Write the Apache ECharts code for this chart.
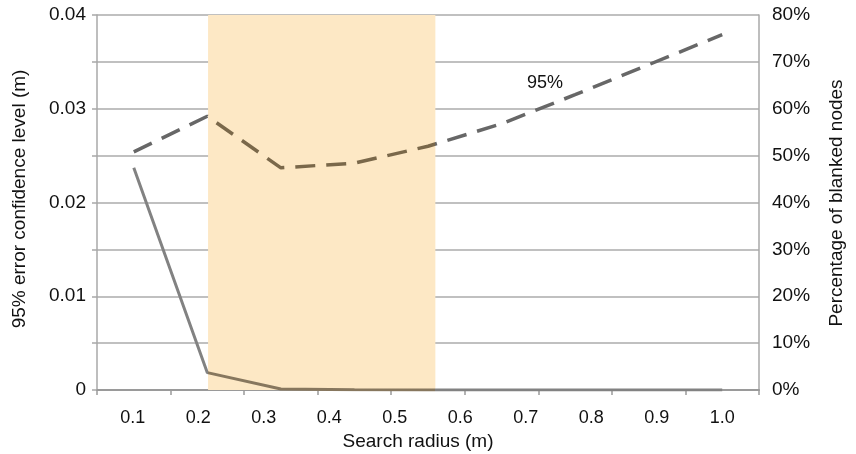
<!DOCTYPE html>
<html><head><meta charset="utf-8">
<script src="https://cdn.jsdelivr.net/npm/echarts@6/dist/echarts.min.js"></script>
<style>html,body{margin:0;padding:0;background:#fff}#c{width:856px;height:454px}</style>
</head><body><div id="c"></div>
<script>
// x tick labels (displayed)
const radiusLabels = ['0.1','0.2','0.3','0.4','0.5','0.6','0.7','0.8','0.9','1.0'];
// 9 measured points (placed at the centres of 9 equal slots along the axis)
const pointSlots = [0.5, 1.5, 2.5, 3.5, 4.5, 5.5, 6.5, 7.5, 8.5];
const confidence95 = [0.0254, 0.0292, 0.0237, 0.0242, 0.0260, 0.0284, 0.0315, 0.0347, 0.0379];
const blankedPct   = [47.4, 3.7, 0.2, 0.05, 0, 0, 0, 0, 0];
// shaded band, in slot units
const shadeRange = [1.51, 4.60];
const leftMax = 0.04, leftStep = 0.005;
const rightMax = 80, rightStep = 10;

const FONT = '"Liberation Sans", Arial, Helvetica, sans-serif';
const chart = echarts.init(document.getElementById('c'), null, {renderer: 'canvas'});

const dashedData = pointSlots.map((x, i) => [x, confidence95[i]]);
const solidData = pointSlots.map((x, i) => [x, blankedPct[i]]);

chart.setOption({
  animation: false,
  backgroundColor: '#fff',
  textStyle: {fontFamily: FONT},
  grid: [
    {left: 97, right: 97, top: 15, bottom: 64, containLabel: false},
    {left: 100, width: 655, top: 15, bottom: 64, containLabel: false}
  ],
  xAxis: [
    {type: 'value', gridIndex: 0, min: 0, max: 9, interval: 1,
     axisLine: {show: true, lineStyle: {color: '#9a9a9a', width: 2}},
     axisTick: {show: true, length: 5, lineStyle: {color: '#9a9a9a', width: 1.5}},
     axisLabel: {show: false}, splitLine: {show: false}},
    {type: 'category', gridIndex: 1, data: radiusLabels, boundaryGap: true,
     axisLine: {show: false}, axisTick: {show: false}, splitLine: {show: false},
     axisLabel: {interval: 0, margin: 19, fontSize: 18, color: '#111', fontFamily: FONT}}
  ],
  yAxis: [
    {type: 'value', gridIndex: 0, min: 0, max: leftMax, interval: leftStep, position: 'left',
     axisLine: {show: true, lineStyle: {color: '#a8a8a8', width: 1.5}},
     axisTick: {show: true, length: 5, lineStyle: {color: '#a8a8a8', width: 1.5}},
     splitLine: {show: true, lineStyle: {color: '#ababab', width: 1.5}},
     axisLabel: {margin: 11, fontSize: 19, color: '#111', fontFamily: FONT,
       formatter: v => {
         const k = Math.round(v / 0.01);
         if (Math.abs(v - k * 0.01) > 1e-9) return '';
         return k === 0 ? '0' : v.toFixed(2);
       }}},
    {type: 'value', gridIndex: 0, min: 0, max: rightMax, interval: rightStep, position: 'right',
     axisLine: {show: true, lineStyle: {color: '#a8a8a8', width: 1.5}},
     axisTick: {show: false},
     splitLine: {show: false},
     axisLabel: {margin: 13, fontSize: 19, color: '#111', fontFamily: FONT, formatter: '{value}%'}},
    {type: 'value', gridIndex: 1, min: 0, max: 1, show: false}
  ],
  visualMap: [
    {type: 'piecewise', show: false, seriesIndex: 1, dimension: 0,
     pieces: [
       {lt: shadeRange[0], color: '#676767'},
       {gte: shadeRange[0], lte: shadeRange[1], color: '#7a684a'},
       {gt: shadeRange[1], color: '#676767'}
     ]},
    {type: 'piecewise', show: false, seriesIndex: 2, dimension: 0,
     pieces: [
       {lt: shadeRange[0], color: '#828282'},
       {gte: shadeRange[0], lte: shadeRange[1], color: '#87775e'},
       {gt: shadeRange[1], color: '#828282'}
     ]}
  ],
  series: [
    {type: 'line', name: 'shade', xAxisIndex: 0, yAxisIndex: 0, data: [], z: -5, silent: true,
     markArea: {silent: true, itemStyle: {color: '#fde8c5'},
       data: [[{xAxis: shadeRange[0], yAxis: 0}, {xAxis: shadeRange[1], yAxis: leftMax}]]}},
    {type: 'line', name: '95%', xAxisIndex: 0, yAxisIndex: 0, data: dashedData,
     showSymbol: false, symbol: 'none', z: 3,
     lineStyle: {width: 3.5, type: [20, 11]}},
    {type: 'line', name: 'blanked', xAxisIndex: 0, yAxisIndex: 1, data: solidData,
     showSymbol: false, symbol: 'none', z: 3,
     lineStyle: {width: 3}}
  ],
  graphic: [
    {type: 'text', x: 545, y: 83, style: {text: '95%', font: '18px ' + FONT, fill: '#111', align: 'center', verticalAlign: 'middle'}},
    {type: 'text', x: 418, y: 442, style: {text: 'Search radius (m)', font: '19px ' + FONT, fill: '#111', align: 'center', verticalAlign: 'middle'}},
    {type: 'text', x: 20, y: 199, rotation: Math.PI / 2, style: {text: '95% error confidence level (m)', font: '19px ' + FONT, fill: '#111', align: 'center', verticalAlign: 'middle'}},
    {type: 'text', x: 837, y: 203, rotation: Math.PI / 2, style: {text: 'Percentage of blanked nodes', font: '19px ' + FONT, fill: '#111', align: 'center', verticalAlign: 'middle'}}
  ]
});
</script>
</body></html>
